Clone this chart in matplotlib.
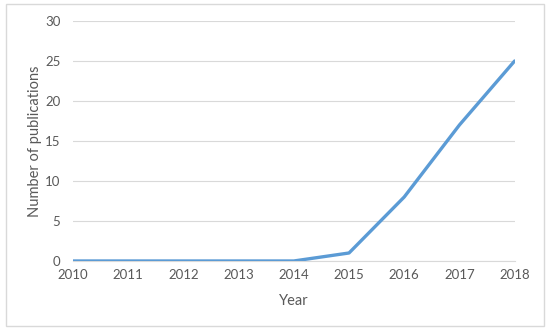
import matplotlib
matplotlib.use("Agg")
import matplotlib.pyplot as plt
from matplotlib.patches import Rectangle

# Data
years = ["2010", "2011", "2012", "2013", "2014", "2015", "2016", "2017", "2018"]
publications = [0, 0, 0, 0, 0, 1, 8, 17, 25]
y_ticks = [0, 5, 10, 15, 20, 25, 30]

plt.rcParams['font.family'] = ['Lato', 'DejaVu Sans']
text_color = '#595959'

fig = plt.figure(figsize=(5.5, 3.34), dpi=100)
ax = fig.add_axes([0.1327, 0.2186, 0.803, 0.7186])

# outer chart border
fig.patches.append(Rectangle((6 / 550, 1 - 326 / 334), 538 / 550, 322 / 334,
                             transform=fig.transFigure, fill=False,
                             edgecolor='#d9d9d9', linewidth=1))

x = list(range(len(years)))
ax.plot(x, publications, color='#5b9bd5', linewidth=2.4, solid_capstyle='round', zorder=3)

ax.set_xlim(0, len(years) - 1)
ax.set_ylim(0, 30)
ax.set_xticks(x)
ax.set_xticklabels(years)
ax.set_yticks(y_ticks)
ax.grid(axis='y', color='#d9d9d9', linewidth=0.8)
ax.set_axisbelow(True)
for s in ['top', 'right', 'left']:
    ax.spines[s].set_visible(False)
ax.spines['bottom'].set_color('#d9d9d9')
ax.tick_params(axis='both', length=0, labelsize=9.5, colors=text_color, pad=6)
ax.tick_params(axis='y', pad=9)

ax.set_xlabel('Year', fontsize=10.5, color=text_color, labelpad=9)
ax.set_ylabel('Number of publications', fontsize=10.5, color=text_color, labelpad=2)

fig.savefig('out.png', dpi=100)
